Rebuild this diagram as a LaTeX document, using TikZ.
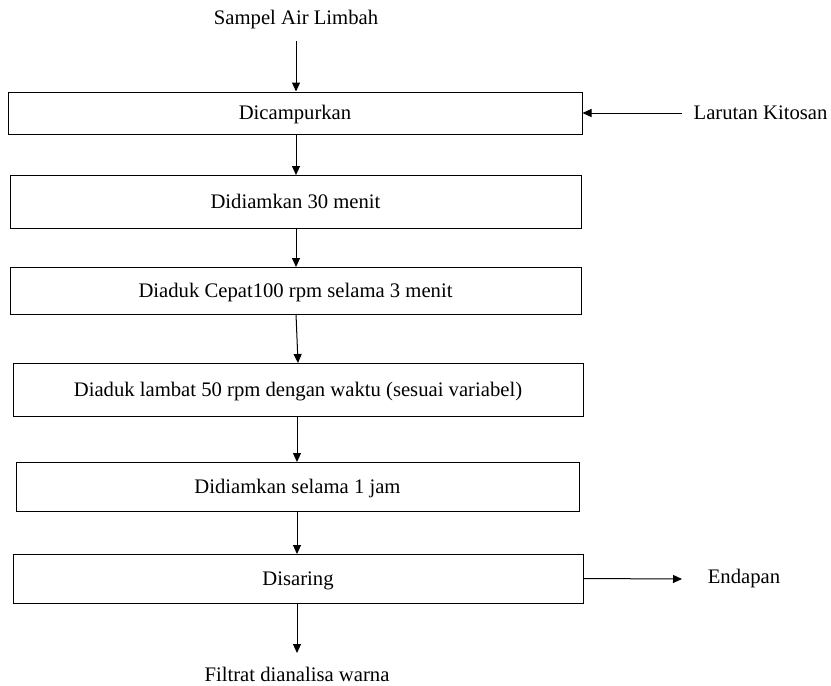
\documentclass[tikz,border=0pt]{standalone}
\usepackage{fontspec}
\setmainfont{Liberation Serif}
\usetikzlibrary{arrows.meta}
\begin{document}
\begin{tikzpicture}[x=0.6pt,y=-0.6pt,
  txt/.style={font=\fontsize{12.4}{14}\selectfont},
  box/.style={draw, line width=0.6pt, inner sep=0pt, text height=10pt, text depth=1.84pt, txt},
  lbl/.style={inner sep=0pt, txt},
  arr/.style={line width=0.6pt, -{Triangle[length=5.4pt,width=4.8pt]}}]
\useasboundingbox (0,0) rectangle (831,685);
% boxes
\node[box, minimum width=574*0.6pt, minimum height=42*0.6pt] (b1) at (295,113) {Dicampurkan};
\node[box, minimum width=571*0.6pt, minimum height=53*0.6pt] (b2) at (295.5,201.5) {Didiamkan 30 menit};
\node[box, minimum width=571*0.6pt, minimum height=47*0.6pt] (b3) at (295.5,290.5) {Diaduk Cepat100 rpm selama 3 menit};
\node[box, minimum width=570*0.6pt, minimum height=53*0.6pt] (b4) at (298,389.5) {Diaduk lambat 50 rpm dengan waktu (sesuai variabel)};
\node[box, minimum width=563*0.6pt, minimum height=49*0.6pt] (b5) at (297.5,486.5) {Didiamkan selama 1 jam};
\node[box, minimum width=570*0.6pt, minimum height=49*0.6pt] (b6) at (298,578.5) {Disaring};
% labels
\node[lbl, anchor=base] (sampel) at (296,24) {Sampel Air Limbah};
\node[lbl] (larutan) at (760.5,113) {Larutan Kitosan};
\node[lbl] (endapan) at (744,579) {Endapan};
\node[lbl, anchor=base] (filtrat) at (297,681) {Filtrat dianalisa warna};
\coordinate (sTop) at (296,41);
\coordinate (lStart) at (682,113);
\coordinate (eEnd) at (682,579);
\coordinate (fEnd) at (297,653);
% connectors
\draw[arr] (sTop) -- (sTop |- b1.north);
\draw[arr] (296,134) -- (296,175);
\draw[arr] (296,228) -- (296,267);
\draw[arr] (296,314) -- (298,363);
\draw[arr] (297,416) -- (297,462);
\draw[arr] (297,511) -- (297,554);
\draw[arr] (297,603) -- (fEnd);
\draw[arr] (lStart) -- (b1.east);
\draw[arr] (b6.east) -- (eEnd);
\end{tikzpicture}
\end{document}
